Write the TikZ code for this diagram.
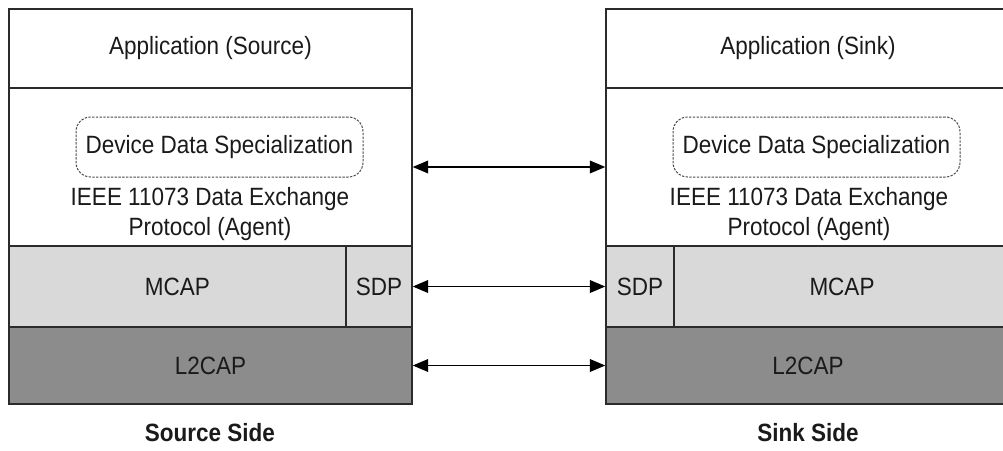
\documentclass[tikz,border=0pt]{standalone}
\usepackage{fontspec}
\setmainfont{Liberation Sans}[FakeStretch=0.9]
\usetikzlibrary{arrows.meta}
\definecolor{lineclr}{HTML}{2B2B2B}
\definecolor{txtclr}{HTML}{1A1A1A}
\definecolor{lightfill}{HTML}{D9D9D9}
\definecolor{darkfill}{HTML}{8C8C8C}
\definecolor{dashclr}{HTML}{4A4A4A}

\begin{document}
\begin{tikzpicture}[x=0.75pt,y=-0.75pt,
  font=\fontsize{18.75}{22.5}\selectfont,
  every node/.style={text=txtclr},
  cell/.style 2 args={draw=lineclr,line width=1.1pt,rectangle,inner sep=0pt,
    minimum width=#1,minimum height=#2},
  light/.style={fill=lightfill},
  dark/.style={fill=darkfill},
  spec/.style={draw=dashclr,line width=0.75pt,dash pattern=on 1.8pt off 1pt,
    rounded corners=11pt,minimum width=215.25pt,minimum height=45pt,inner sep=0pt},
  stacklbl/.style={align=center,inner sep=0pt},
  sidelbl/.style={font=\fontsize{18.75}{22.5}\selectfont\bfseries,inner sep=0pt},
  biarrow/.style={draw=black,line width=1pt,
    {Triangle[length=11.5pt,width=9.5pt]}-{Triangle[length=11.5pt,width=9.5pt]}}
]
\useasboundingbox (0,0) rectangle (1003,450);
\clip (0,0) rectangle (1003,450);

% source stack
\node[cell={302.25pt}{59.25pt}] (srcApp) at (210.5,48.5) {Application (Source)};
\node[cell={302.25pt}{118.5pt}] (srcIEEE) at (210.5,167) {};
\node[cell={252.75pt}{60.75pt},light] (srcMCAP) at (177.5,286.5) {MCAP};
\node[cell={49.5pt}{60.75pt},light] (srcSDP) at (379,286.5) {SDP};
\node[cell={302.25pt}{57.75pt},dark] (srcL2) at (210.5,365.5) {L2CAP};
\node[spec] (srcSpec) at (219.5,147) {Device Data Specialization};
\node[stacklbl] (srcProto) at (210,214) {IEEE 11073 Data Exchange\\[0.5pt]Protocol (Agent)};
\node[sidelbl] (srcSide) at (210,433) {Source Side};

% sink stack
\node[cell={303pt}{59.25pt}] (snkApp) at (808,48.5) {Application (Sink)};
\node[cell={303pt}{118.5pt}] (snkIEEE) at (808,167) {};
\node[cell={51pt}{60.75pt},light] (snkSDP) at (640,286.5) {SDP};
\node[cell={252pt}{60.75pt},light] (snkMCAP) at (842,286.5) {MCAP};
\node[cell={303pt}{57.75pt},dark] (snkL2) at (808,365.5) {L2CAP};
\node[spec] (snkSpec) at (816.5,147) {Device Data Specialization};
\node[stacklbl] (snkProto) at (809,214) {IEEE 11073 Data Exchange\\[0.5pt]Protocol (Agent)};
\node[sidelbl] (snkSide) at (808,433) {Sink Side};

% peer links
\draw[biarrow] (srcIEEE.east) -- (snkIEEE.west);
\draw[biarrow] (srcSDP.east) -- (snkSDP.west);
\draw[biarrow] (srcL2.east) -- (snkL2.west);
\end{tikzpicture}
\end{document}
